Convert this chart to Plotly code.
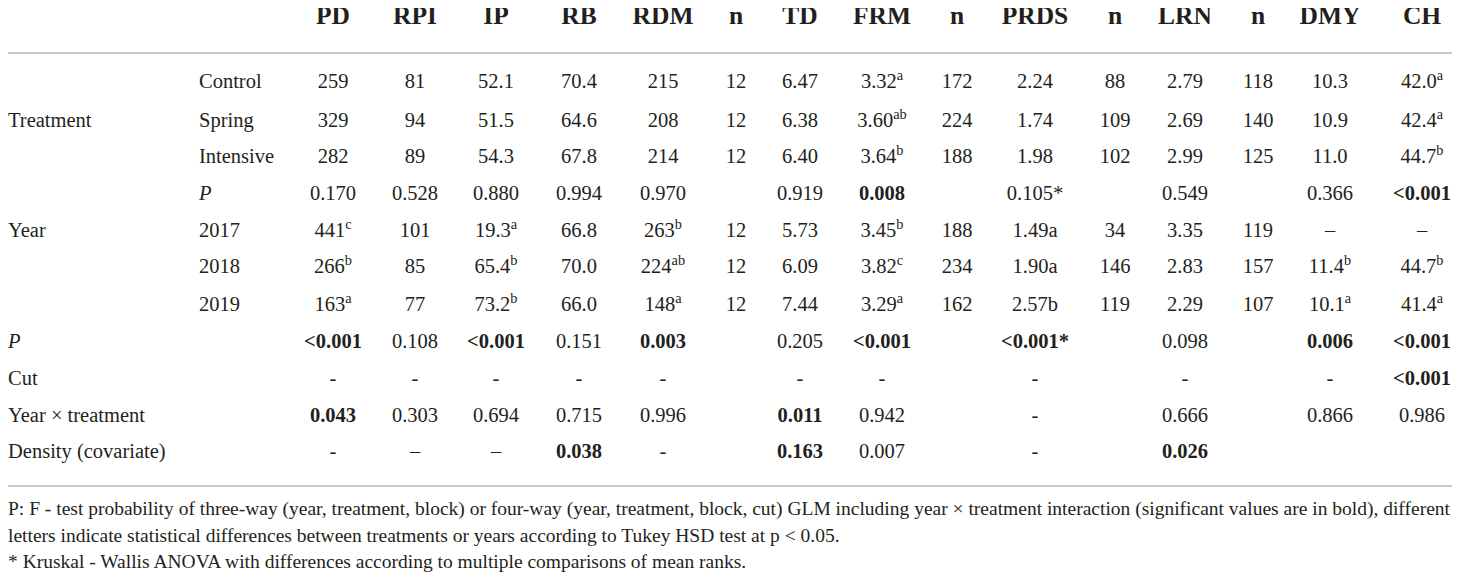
import plotly.graph_objects as go

# ---------------- data ----------------
columns = ["PD", "RPI", "IP", "RB", "RDM", "n", "TD", "FRM", "n", "PRDS", "n", "LRN", "n", "DMY", "CH"]

group_labels = ["", "Treatment", "", "", "Year", "", "", "P", "Cut", "Year × treatment", "Density (covariate)"]
sub_labels = ["Control", "Spring", "Intensive", "P", "2017", "2018", "2019", "", "", "", ""]

row_control = ["259", "81", "52.1", "70.4", "215", "12", "6.47", "3.32", "172", "2.24", "88", "2.79", "118", "10.3", "42.0"]
row_spring = ["329", "94", "51.5", "64.6", "208", "12", "6.38", "3.60", "224", "1.74", "109", "2.69", "140", "10.9", "42.4"]
row_intensive = ["282", "89", "54.3", "67.8", "214", "12", "6.40", "3.64", "188", "1.98", "102", "2.99", "125", "11.0", "44.7"]
row_p_treatment = ["0.170", "0.528", "0.880", "0.994", "0.970", "", "0.919", "0.008", "", "0.105*", "", "0.549", "", "0.366", "<0.001"]
row_2017 = ["441", "101", "19.3", "66.8", "263", "12", "5.73", "3.45", "188", "1.49a", "34", "3.35", "119", "–", "–"]
row_2018 = ["266", "85", "65.4", "70.0", "224", "12", "6.09", "3.82", "234", "1.90a", "146", "2.83", "157", "11.4", "44.7"]
row_2019 = ["163", "77", "73.2", "66.0", "148", "12", "7.44", "3.29", "162", "2.57b", "119", "2.29", "107", "10.1", "41.4"]
row_p_year = ["<0.001", "0.108", "<0.001", "0.151", "0.003", "", "0.205", "<0.001", "", "<0.001*", "", "0.098", "", "0.006", "<0.001"]
row_cut = ["-", "-", "-", "-", "-", "", "-", "-", "", "-", "", "-", "", "-", "<0.001"]
row_year_treat = ["0.043", "0.303", "0.694", "0.715", "0.996", "", "0.011", "0.942", "", "-", "", "0.666", "", "0.866", "0.986"]
row_density = ["-", "–", "–", "0.038", "-", "", "0.163", "0.007", "", "-", "", "0.026", "", "", ""]

# Tukey letters (superscripts)
sup_control = ["", "", "", "", "", "", "", "a", "", "", "", "", "", "", "a"]
sup_spring = ["", "", "", "", "", "", "", "ab", "", "", "", "", "", "", "a"]
sup_intensive = ["", "", "", "", "", "", "", "b", "", "", "", "", "", "", "b"]
sup_2017 = ["c", "", "a", "", "b", "", "", "b", "", "", "", "", "", "", ""]
sup_2018 = ["b", "", "b", "", "ab", "", "", "c", "", "", "", "", "", "b", "b"]
sup_2019 = ["a", "", "b", "", "a", "", "", "a", "", "", "", "", "", "a", "a"]

# significant values (shown in bold)
sig_p_treatment = ["FRM", "CH"]
sig_p_year = ["PD", "IP", "RDM", "FRM", "PRDS", "DMY", "CH"]
sig_cut = ["CH"]
sig_year_treat = ["PD", "TD"]
sig_density = ["RB", "TD", "LRN"]

footnotes = [
    "P: F - test probability of three-way (year, treatment, block) or four-way (year, treatment, block, cut) GLM including year × treatment interaction (significant values are in bold), different",
    "letters indicate statistical differences between treatments or years according to Tukey HSD test at p < 0.05.",
    "* Kruskal - Wallis ANOVA with differences according to multiple comparisons of mean ranks.",
]

# ---------------- layout ----------------
PAGE_W, PAGE_H = 1460, 579
OFF = 8  # default page body margin
FONT = "Liberation Serif"
COLOR = "#231f20"
col_x = [333, 415, 496, 579, 663, 736, 800, 882, 957, 1035, 1115, 1185, 1258, 1330, 1422]
header_y = 18
row_y = [83, 122, 158, 195, 232, 268, 306, 343, 380, 417, 453]
group_x = 8
sub_x = 199
body_size = 20.5
header_size = 25.5
foot_size = 19.5
foot_y = [510, 537, 563]
rule_y = [53, 486]

rows = [row_control, row_spring, row_intensive, row_p_treatment, row_2017, row_2018, row_2019,
        row_p_year, row_cut, row_year_treat, row_density]
sups = [sup_control, sup_spring, sup_intensive, None, sup_2017, sup_2018, sup_2019,
        None, None, None, None]
sigs = [[], [], [], sig_p_treatment, [], [], [], sig_p_year, sig_cut, sig_year_treat, sig_density]

fig = go.Figure()

# header
fig.add_trace(go.Scatter(
    x=col_x, y=[header_y] * len(columns), mode="text",
    text=[f"<b>{c}</b>" for c in columns], textposition="middle center",
    textfont=dict(family=FONT, size=header_size, color=COLOR),
    cliponaxis=False, hoverinfo="skip", showlegend=False))

# body cells
cx, cy, ct = [], [], []
for ri, row in enumerate(rows):
    for ci, val in enumerate(row):
        if val == "":
            continue
        t = val
        if sups[ri] is not None and sups[ri][ci]:
            t = f"{t}<sup>{sups[ri][ci]}</sup>"
        if columns[ci] in sigs[ri] and columns[ci] != "n":
            t = f"<b>{t}</b>"
        cx.append(col_x[ci])
        cy.append(row_y[ri])
        ct.append(t)
fig.add_trace(go.Scatter(
    x=cx, y=cy, mode="text", text=ct, textposition="middle center",
    textfont=dict(family=FONT, size=body_size, color=COLOR),
    cliponaxis=False, hoverinfo="skip", showlegend=False))

# row labels
lx, ly, lt = [], [], []
for ri in range(len(rows)):
    if group_labels[ri]:
        lx.append(group_x)
        ly.append(row_y[ri])
        lt.append("<i>P</i>" if group_labels[ri] == "P" else group_labels[ri])
    if sub_labels[ri]:
        lx.append(sub_x)
        ly.append(row_y[ri])
        lt.append("<i>P</i>" if sub_labels[ri] == "P" else sub_labels[ri])
fig.add_trace(go.Scatter(
    x=lx, y=ly, mode="text", text=lt, textposition="middle right",
    textfont=dict(family=FONT, size=body_size, color=COLOR),
    cliponaxis=False, hoverinfo="skip", showlegend=False))

# footnotes
fig.add_trace(go.Scatter(
    x=[group_x] * len(footnotes), y=foot_y, mode="text", text=footnotes,
    textposition="middle right",
    textfont=dict(family=FONT, size=foot_size, color=COLOR),
    cliponaxis=False, hoverinfo="skip", showlegend=False))

for yy in rule_y:
    fig.add_shape(type="line", x0=8, x1=1452, y0=yy, y1=yy, xref="x", yref="y",
                  line=dict(color="#c9c9c9", width=2))

fig.update_layout(
    width=PAGE_W - OFF, height=PAGE_H - OFF, margin=dict(l=0, r=0, t=0, b=0),
    paper_bgcolor="white", plot_bgcolor="white",
    xaxis=dict(range=[OFF, PAGE_W], visible=False, fixedrange=True),
    yaxis=dict(range=[PAGE_H, OFF], visible=False, fixedrange=True),
)

fig.write_html("out.html")
